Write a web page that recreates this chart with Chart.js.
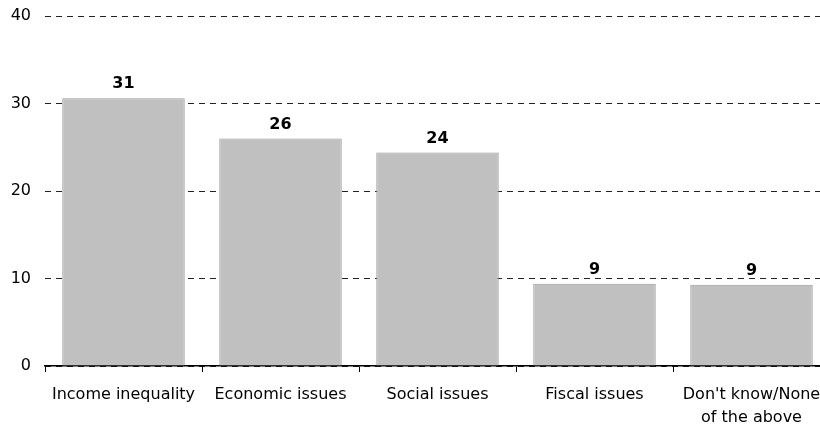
<!DOCTYPE html>
<html>
<head>
<meta charset="utf-8">
<script src="https://cdn.jsdelivr.net/npm/chart.js@4/dist/chart.umd.min.js"></script>
<style>
  html, body { margin: 0; padding: 0; background: #fff; overflow: hidden; }
  #wrap { width: 832px; height: 426px; }
</style>
</head>
<body>
<div id="wrap"><canvas id="issues-chart" width="832" height="426"></canvas></div>
<script>
// values
const categories = ['Income inequality', 'Economic issues', 'Social issues', 'Fiscal issues', ["Don't know/None", 'of the above']];
const shares = [30.6, 26.0, 24.4, 9.4, 9.3];
const yTicks = [0, 10, 20, 30, 40];

// draws the rounded value above each bar
const valueLabels = {
    id: 'valueLabels',
    afterDatasetsDraw(chart) {
        const ctx = chart.ctx;
        const meta = chart.getDatasetMeta(0);
        ctx.save();
        ctx.font = 'bold 16px "DejaVu Sans"';
        ctx.fillStyle = '#000';
        ctx.textAlign = 'center';
        ctx.textBaseline = 'bottom';
        meta.data.forEach(function(bar, i) {
            ctx.fillText(Math.round(shares[i]), bar.x, bar.y - 6);
        });
        ctx.restore();
    }
};

const data = {
    labels: categories,
    datasets: [{
        data: shares,
        backgroundColor: '#c0c0c0',
        borderColor: '#999999',
        borderWidth: 1,
        barPercentage: 0.78,
        categoryPercentage: 1.0
    }]
};

const config = {
    type: 'bar',
    data: data,
    plugins: [valueLabels],
    options: {
        responsive: false,
        animation: false,
        layout: { padding: { top: 16, right: 2, left: 0, bottom: 0 } },
        plugins: { legend: { display: false }, tooltip: { enabled: false } },
        scales: {
            x: {
                afterFit: function(axis) { axis.height = 60; axis.paddingLeft = 0; axis.paddingRight = 0; },
                border: { display: true, color: '#000', width: 1.5 },
                grid: { offset: true, drawOnChartArea: false, tickLength: 6, color: '#000' },
                ticks: { color: '#000', padding: 12, font: { family: 'DejaVu Sans', size: 16, lineHeight: 1.4 }, maxRotation: 0 }
            },
            y: {
                min: 0,
                max: 40,
                afterFit: function(axis) { axis.width = 45; axis.paddingTop = 0; axis.paddingBottom = 0; },
                afterBuildTicks: function(axis) { axis.ticks = yTicks.map(v => ({ value: v })); },
                border: { display: false, dash: [6, 5] },
                grid: { drawTicks: false, color: '#222', lineWidth: 1 },
                ticks: { color: '#000', padding: 14, font: { family: 'DejaVu Sans', size: 16 } }
            }
        }
    }
};

const issuesChart = new Chart(document.getElementById('issues-chart'), config);
</script>
</body>
</html>
